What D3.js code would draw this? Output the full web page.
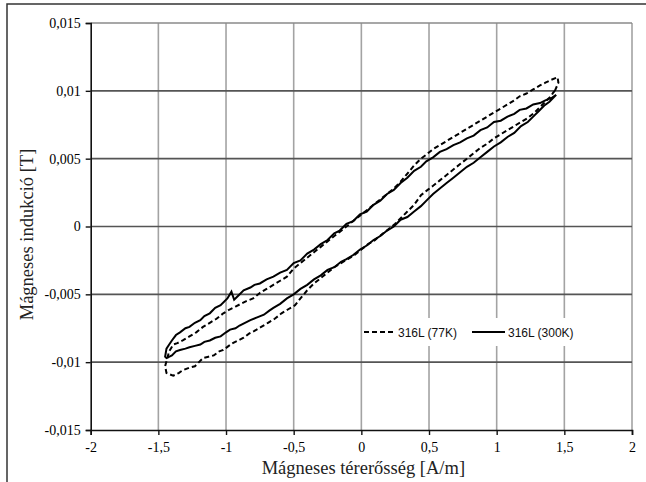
<!DOCTYPE html>
<html><head><meta charset="utf-8">
<script src="https://cdn.jsdelivr.net/npm/d3@7/dist/d3.min.js"></script>
<style>html,body{margin:0;padding:0;background:#fff;}svg{display:block;}</style>
</head><body>
<svg id="c" width="646" height="482"></svg>
<script>
// ---- data ----
const xTicks = [-2, -1.5, -1, -0.5, 0, 0.5, 1, 1.5, 2];
const xTickLabels = ["-2", "-1,5", "-1", "-0,5", "0", "0,5", "1", "1,5", "2"];
const yTicks = [0.015, 0.01, 0.005, 0, -0.005, -0.01, -0.015];
const yTickLabels = ["0,015", "0,01", "0,005", "0", "-0,005", "-0,01", "-0,015"];
const xTitle = "Mágneses térerősség [A/m]";
const yTitle = "Mágneses indukció [T]";
const seriesNames = ["316L (77K)", "316L (300K)"];

// 316L (300K): loop path H [A/m]
const h300 = [1.44,1.41,1.36,1.32,1.27,1.22,1.17,1.13,1.08,1.03,0.98,0.93,0.88,0.83,0.78,0.73,0.68,0.63,0.58,0.53,0.48,0.44,0.39,0.34,0.29,0.24,0.19,0.14,0.09,0.04,-0.01,-0.06,-0.11,-0.16,-0.20,-0.25,-0.30,-0.35,-0.40,-0.45,-0.50,-0.55,-0.60,-0.65,-0.70,-0.75,-0.79,-0.82,-0.87,-0.91,-0.94,-0.96,-0.99,-1.04,-1.08,-1.12,-1.16,-1.19,-1.23,-1.27,-1.30,-1.34,-1.37,-1.40,-1.42,-1.44,-1.45,
  -1.44,-1.40,-1.37,-1.34,-1.30,-1.27,-1.23,-1.19,-1.16,-1.12,-1.08,-1.04,-1.00,-0.97,-0.93,-0.90,-0.86,-0.82,-0.77,-0.72,-0.68,-0.65,-0.60,-0.55,-0.50,-0.45,-0.40,-0.35,-0.30,-0.25,-0.20,-0.15,-0.11,-0.06,-0.01,0.04,0.09,0.14,0.19,0.24,0.29,0.34,0.39,0.44,0.49,0.53,0.58,0.63,0.68,0.73,0.78,0.83,0.88,0.93,0.98,1.03,1.08,1.13,1.18,1.23,1.27,1.31,1.35,1.39,1.42,1.44];
// 316L (300K): B [T]
const b300 = [0.0097,0.0095,0.0093,0.0091,0.0090,0.0087,0.0086,0.0083,0.0081,0.0078,0.0077,0.0073,0.0071,0.0067,0.0065,0.0062,0.0060,0.0057,0.0055,0.0051,0.0048,0.0044,0.0041,0.0036,0.0032,0.0027,0.0024,0.0019,0.0016,0.0011,0.0009,0.0004,0.0002,-0.0003,-0.0005,-0.0010,-0.0013,-0.0017,-0.0020,-0.0025,-0.0027,-0.0032,-0.0034,-0.0037,-0.0039,-0.0042,-0.0043,-0.0045,-0.0047,-0.0051,-0.0054,-0.0048,-0.0053,-0.0058,-0.0060,-0.0064,-0.0066,-0.0069,-0.0071,-0.0074,-0.0075,-0.0078,-0.0080,-0.0084,-0.0087,-0.0090,-0.0096,
  -0.0097,-0.0095,-0.0092,-0.0091,-0.0090,-0.0089,-0.0088,-0.0087,-0.0085,-0.0084,-0.0082,-0.0081,-0.0078,-0.0076,-0.0075,-0.0073,-0.0071,-0.0069,-0.0067,-0.0065,-0.0062,-0.0060,-0.0057,-0.0053,-0.0050,-0.0046,-0.0043,-0.0039,-0.0036,-0.0032,-0.0030,-0.0026,-0.0024,-0.0021,-0.0017,-0.0014,-0.0010,-0.0007,-0.0003,0.0000,0.0005,0.0007,0.0011,0.0015,0.0020,0.0024,0.0028,0.0032,0.0036,0.0040,0.0044,0.0047,0.0051,0.0055,0.0059,0.0062,0.0066,0.0069,0.0074,0.0077,0.0081,0.0085,0.0089,0.0092,0.0095,0.0097];

// 316L (77K): loop path H [A/m]
const h77 = [1.43,1.456,1.45,1.40,1.36,1.32,1.27,1.22,1.17,1.13,1.08,1.03,0.98,0.93,0.88,0.83,0.78,0.73,0.68,0.63,0.58,0.53,0.48,0.44,0.39,0.34,0.29,0.24,0.19,0.14,0.09,0.04,-0.01,-0.06,-0.11,-0.16,-0.20,-0.25,-0.30,-0.35,-0.40,-0.45,-0.50,-0.55,-0.60,-0.65,-0.70,-0.75,-0.80,-0.85,-0.89,-0.93,-0.97,-1.02,-1.07,-1.12,-1.17,-1.22,-1.27,-1.32,-1.36,-1.39,-1.42,-1.45,
  -1.44,-1.39,-1.35,-1.32,-1.27,-1.23,-1.20,-1.17,-1.13,-1.09,-1.05,-1.02,-0.98,-0.95,-0.91,-0.87,-0.83,-0.79,-0.74,-0.69,-0.64,-0.59,-0.54,-0.49,-0.45,-0.40,-0.35,-0.30,-0.25,-0.20,-0.15,-0.10,-0.05,0.00,0.05,0.10,0.15,0.20,0.25,0.30,0.34,0.39,0.44,0.49,0.53,0.58,0.63,0.68,0.73,0.78,0.83,0.88,0.93,0.98,1.03,1.08,1.13,1.18,1.23,1.28,1.32,1.37,1.40,1.42,1.43];
// 316L (77K): B [T]
const b77 = [0.0100,0.0106,0.0110,0.0108,0.0106,0.0104,0.0101,0.0098,0.0096,0.0093,0.0090,0.0087,0.0084,0.0081,0.0078,0.0075,0.0072,0.0069,0.0066,0.0063,0.0060,0.0057,0.0053,0.0050,0.0045,0.0039,0.0033,0.0028,0.0024,0.0020,0.0016,0.0012,0.0008,0.0004,0.0000,-0.0004,-0.0007,-0.0011,-0.0015,-0.0019,-0.0023,-0.0027,-0.0031,-0.0037,-0.0040,-0.0043,-0.0046,-0.0049,-0.0053,-0.0055,-0.0057,-0.0059,-0.0061,-0.0064,-0.0068,-0.0071,-0.0074,-0.0078,-0.0081,-0.0084,-0.0086,-0.0087,-0.0092,-0.0103,
  -0.0108,-0.0110,-0.0108,-0.0106,-0.0104,-0.0103,-0.0100,-0.0097,-0.0096,-0.0095,-0.0092,-0.0091,-0.0088,-0.0086,-0.0084,-0.0082,-0.0079,-0.0077,-0.0074,-0.0071,-0.0068,-0.0064,-0.0061,-0.0058,-0.0053,-0.0047,-0.0042,-0.0038,-0.0034,-0.0030,-0.0027,-0.0024,-0.0021,-0.0017,-0.0013,-0.0010,-0.0006,-0.0002,0.0002,0.0007,0.0011,0.0016,0.0023,0.0027,0.0030,0.0034,0.0038,0.0042,0.0046,0.0050,0.0054,0.0058,0.0061,0.0065,0.0068,0.0071,0.0074,0.0077,0.0080,0.0084,0.0088,0.0093,0.0096,0.0099,0.0100];

// ---- chart ----
const svg = d3.select("#c");
const L = 90.7, R = 632, T = 23, B = 430;
const x = d3.scaleLinear().domain([-2, 2]).range([L, R]);
const y = d3.scaleLinear().domain([-0.015, 0.015]).range([B, T]);

// outer frame (top & left visible)
svg.append("path").attr("d", `M7,482 L7,4 L646,4`).attr("fill", "none")
  .attr("stroke", "#333").attr("stroke-width", 1.5);

// vertical gridlines
svg.append("g").selectAll("line").data(xTicks.filter(d => d > -2)).join("line")
  .attr("x1", d => x(d)).attr("x2", d => x(d)).attr("y1", T).attr("y2", B)
  .attr("stroke", "#a3a3a3").attr("stroke-width", 1.6);
// horizontal gridlines
svg.append("g").selectAll("line").data(yTicks.filter(d => d > -0.015)).join("line")
  .attr("x1", L).attr("x2", R).attr("y1", d => y(d)).attr("y2", d => y(d))
  .attr("stroke", d => d === 0.015 ? "#8a8a8a" : "#555").attr("stroke-width", 1.6);

// axes
const xAxis = d3.axisBottom(x).tickValues(xTicks).tickFormat((d, i) => xTickLabels[i])
  .tickSize(5).tickPadding(7);
const yAxis = d3.axisLeft(y).tickValues(yTicks).tickFormat((d, i) => yTickLabels[i])
  .tickSize(5).tickPadding(5);
const gx = svg.append("g").attr("transform", `translate(0,${B})`).call(xAxis);
const gy = svg.append("g").attr("transform", `translate(${L},0)`).call(yAxis);
[gx, gy].forEach(g => {
  g.select(".domain").attr("stroke", "#111").attr("stroke-width", 1.6);
  g.selectAll(".tick line").attr("stroke", "#111").attr("stroke-width", 1.4);
  g.selectAll("text").attr("font-family", "'Liberation Serif', 'Times New Roman', serif")
    .attr("font-size", 14).attr("fill", "#000");
});

// series
const line = d3.line().x(d => x(d[0])).y(d => y(d[1]));
const d77 = h77.map((h, i) => [h, b77[i]]);
const d300 = h300.map((h, i) => [h, b300[i]]);
svg.append("path").datum(d77).attr("d", line).attr("fill", "none")
  .attr("stroke", "#000").attr("stroke-width", 2).attr("stroke-dasharray", "5,3");
svg.append("path").datum(d300).attr("d", line).attr("fill", "none")
  .attr("stroke", "#000").attr("stroke-width", 2);

// legend
const lg = svg.append("g");
lg.append("rect").attr("x", 364).attr("y", 318).attr("width", 216).attr("height", 28).attr("fill", "#fff");
const ly = 332;
lg.append("line").attr("x1", 364).attr("x2", 396).attr("y1", ly).attr("y2", ly)
  .attr("stroke", "#000").attr("stroke-width", 2).attr("stroke-dasharray", "5,3");
lg.append("text").attr("x", 398).attr("y", ly + 4.5).text(seriesNames[0])
  .attr("font-family", "'Liberation Sans', Arial, sans-serif").attr("font-size", 12).attr("fill", "#111");
lg.append("line").attr("x1", 472).attr("x2", 505).attr("y1", ly).attr("y2", ly)
  .attr("stroke", "#000").attr("stroke-width", 2);
lg.append("text").attr("x", 508).attr("y", ly + 4.5).text(seriesNames[1])
  .attr("font-family", "'Liberation Sans', Arial, sans-serif").attr("font-size", 12).attr("fill", "#111");

// titles
svg.append("text").attr("x", (L + R) / 2 + 2).attr("y", 474).attr("text-anchor", "middle")
  .attr("font-family", "'Liberation Serif', 'Times New Roman', serif").attr("font-size", 18.5)
  .attr("fill", "#222").text(xTitle);
svg.append("text").attr("transform", `translate(33,${(T + B) / 2 + 8}) rotate(-90)`)
  .attr("text-anchor", "middle")
  .attr("font-family", "'Liberation Serif', 'Times New Roman', serif").attr("font-size", 18.5)
  .attr("fill", "#222").text(yTitle);
</script>
</body></html>
